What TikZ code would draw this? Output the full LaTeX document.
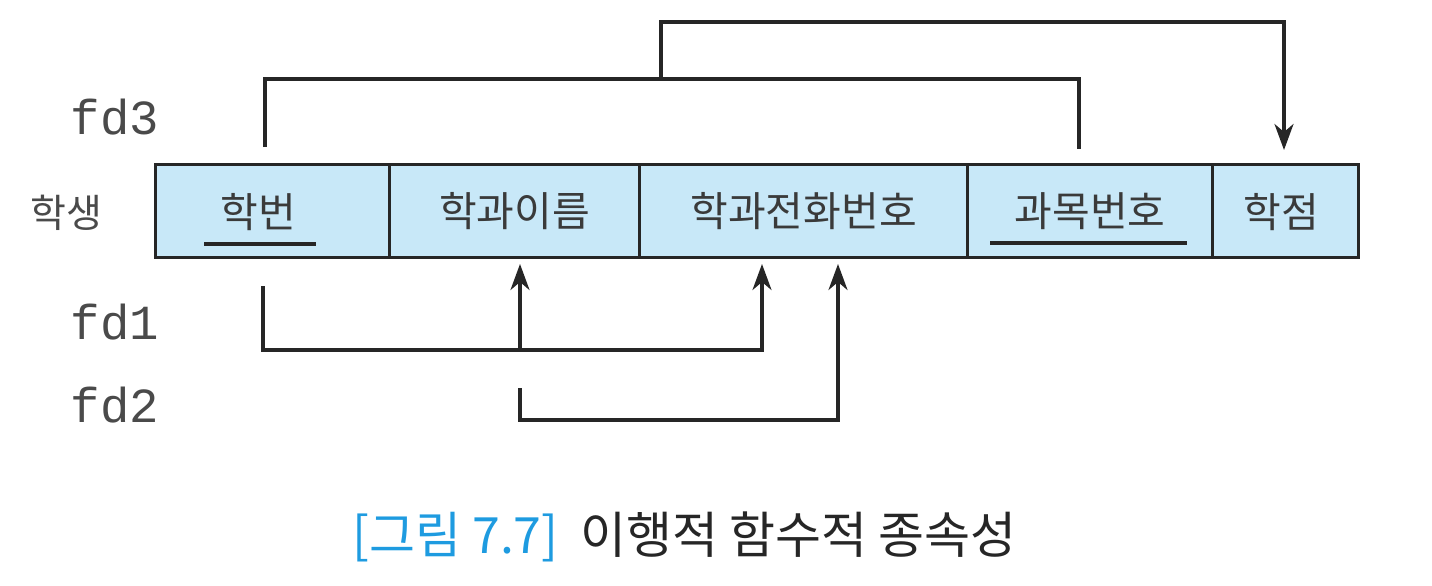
\documentclass[tikz,border=0pt]{standalone}
\usepackage{fontspec}
\setmainfont{Noto Sans CJK KR}
\newfontfamily\krfont{Noto Sans CJK KR}
\newfontfamily\monofd{Liberation Mono}
\usetikzlibrary{arrows.meta}
\definecolor{cellblue}{HTML}{C8E8F8}
\definecolor{txtgray}{HTML}{3A3A3A}
\definecolor{fdgray}{HTML}{4A4A4A}
\definecolor{capblue}{HTML}{1E9BE0}
\tikzset{
  cell/.style={draw=black!85, line width=3.2pt, fill=cellblue, anchor=north west, minimum height=93pt, inner sep=0pt},
  celltxt/.style={text=txtgray, font=\krfont\fontsize{41}{43}\selectfont, inner sep=0pt},
  fdlbl/.style={text=fdgray, font=\monofd\fontsize{49}{51}\selectfont, inner sep=0pt},
  conn/.style={draw=black!85, line width=3.2pt},
  arr/.style={conn, -{Stealth[length=26pt, width=19pt, inset=8pt]}},
  uline/.style={draw=black!85, line width=3.2pt}
}
\begin{document}
\begin{tikzpicture}[x=1pt,y=-1pt]
\useasboundingbox (0,0) rectangle (1432,586);
% cells
\node[cell, minimum width=234pt] (c1) at (154,163) {};
\node[cell, minimum width=250pt] (c2) at (388,163) {};
\node[cell, minimum width=328pt] (c3) at (638,163) {};
\node[cell, minimum width=245pt] (c4) at (966,163) {};
\node[cell, minimum width=146pt] (c5) at (1211,163) {};
% cell texts
\node[celltxt] (t1) at (258,212) {학번};
\node[celltxt] (t2) at (c2.center) {학과이름};
\node[celltxt] (t3) at (c3.center) {학과전화번호};
\node[celltxt] (t4) at (c4.center) {과목번호};
\node[celltxt] (t5) at (1281,212) {학점};
% underlines
\coordinate (u1a) at (204,244); \coordinate (u1b) at (316,244);
\coordinate (u4a) at (990,243); \coordinate (u4b) at (1187,243);
\draw[uline] (u1a) -- (u1b);
\draw[uline] (u4a) -- (u4b);
% labels
\node[celltxt, text=fdgray, font=\krfont\fontsize{39}{41}\selectfont] (stu) at (66,213) {학생};
\node[fdlbl] (fd3) at (115,117) {fd3};
\node[fdlbl] (fd1) at (115,322) {fd1};
\node[fdlbl] (fd2) at (115,405) {fd2};
% fd3
\coordinate (s3a) at (265,147);
\coordinate (s3b) at (1079,149);
\coordinate (m3) at (661,79);
\coordinate (top3) at (661,22);
\coordinate (e3) at (1284,150);
\draw[conn] (s3a) |- (m3) -| (s3b);
\draw[arr] (m3) -- (top3) -| (e3);
% fd1
\coordinate (s1) at (263,286);
\coordinate (j1) at (520,350);
\coordinate (e1a) at (520,264);
\coordinate (e1b) at (762,264);
\draw[arr] (s1) |- (j1) -| (e1b);
\draw[arr] (j1) -- (e1a);
% fd2
\coordinate (s2) at (520,388);
\coordinate (e2) at (838,264);
\draw[arr] (s2) |- (e2 |- 0,420) -- (e2);
% caption
\node[inner sep=0pt, font=\krfont\fontsize{50}{52}\selectfont, anchor=west] (cap) at (352,537) {\textcolor{capblue}{[그림 7.7]}\hspace{22pt}\textcolor{black!85}{이행적 함수적 종속성}};
\end{tikzpicture}
\end{document}
